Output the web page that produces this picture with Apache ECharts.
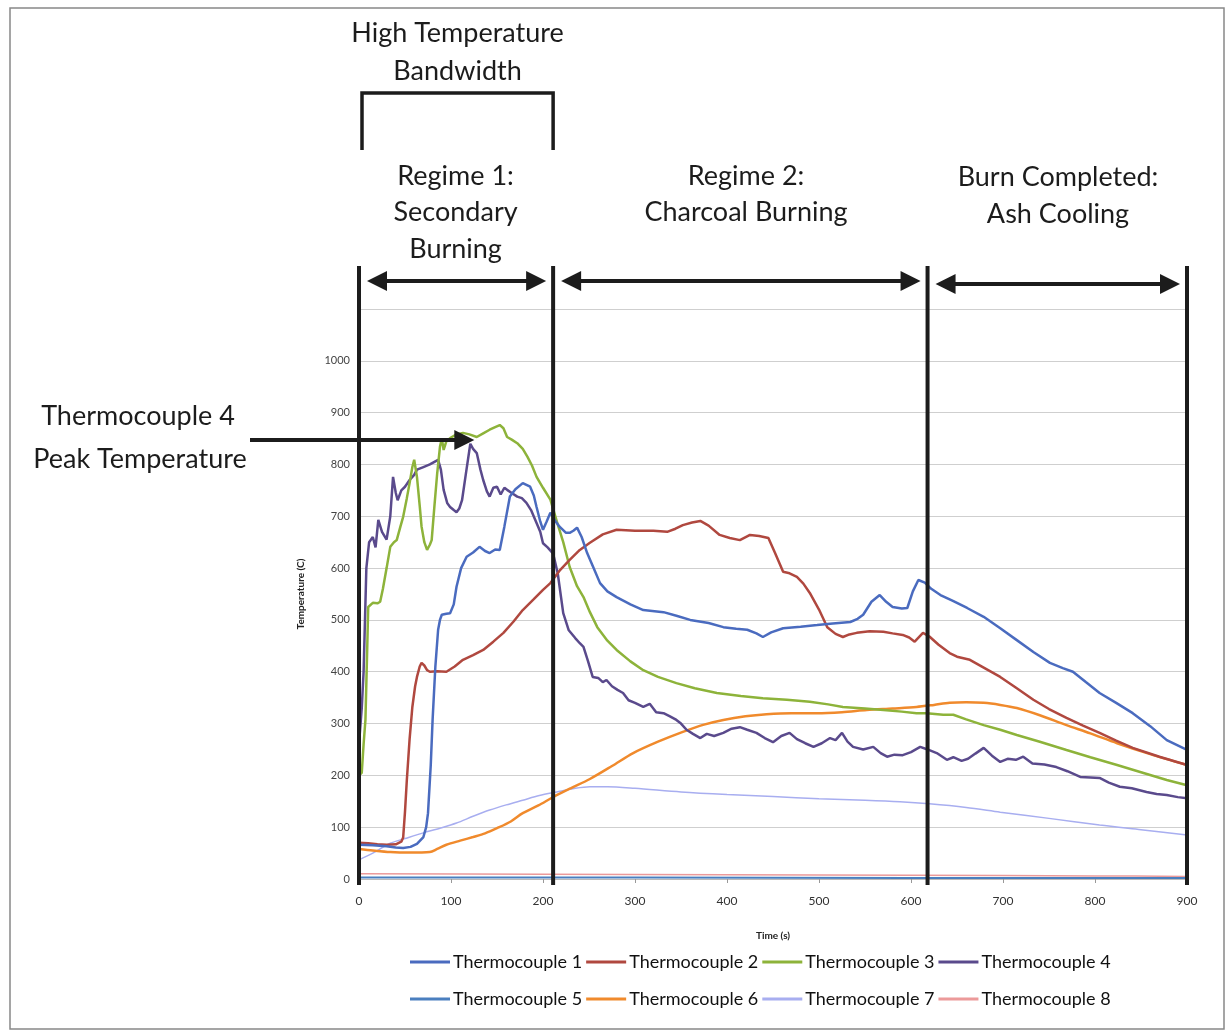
<html>
<head>
<meta charset="utf-8">
<script src="https://cdn.jsdelivr.net/npm/echarts@6/dist/echarts.min.js"></script>
<style>
  html, body { margin: 0; padding: 0; background: #fff; }
  #main { width: 1230px; height: 1033px; }
</style>
</head>
<body>
<div id="main"></div>
<script>
// time (s), temperature (C)
var tc1 = [[0,66],[15,65],[30,63],[40,61],[48,60],[56,62],[63,68],[70,81],[73,100],[75,127],[78,220],[80,307],[83,410],[86,481],[88,500],[90,510],[95,512],[99,513],[103,530],[106,564],[111,600],[117,622],[124,630],[131,641],[137,633],[142,629],[148,636],[153,635],[158,680],[164,738],[170,752],[178,764],[186,757],[190,740],[193,718],[197,690],[200,674],[204,690],[208,707],[213,692],[218,680],[225,668],[229,668],[233,672],[237,678],[242,660],[248,629],[255,600],[262,571],[270,555],[280,544],[295,530],[309,519],[331,515],[345,508],[360,500],[380,494],[396,486],[410,483],[422,481],[432,474],[439,467],[448,476],[461,484],[480,487],[498,490],[515,493],[534,496],[542,502],[548,510],[557,535],[566,548],[573,535],[580,525],[590,522],[596,523],[602,555],[608,577],[615,572],[622,560],[632,548],[645,537],[661,523],[679,506],[697,484],[715,461],[733,438],[751,417],[765,407],[776,400],[790,380],[805,359],[823,340],[841,320],[860,295],[878,268],[900,249]];
var tc2 = [[0,70],[10,69],[20,67],[30,66],[40,67],[46,72],[48,80],[50,130],[52,191],[55,270],[58,332],[61,372],[63,390],[66,410],[68,417],[71,412],[74,403],[77,400],[85,401],[95,400],[104,410],[113,423],[124,432],[135,442],[146,458],[157,475],[168,497],[178,519],[190,540],[200,558],[208,571],[218,595],[229,616],[240,635],[251,649],[265,665],[280,674],[300,672],[320,672],[335,670],[344,676],[352,683],[362,688],[371,691],[380,682],[392,664],[403,658],[414,654],[425,664],[435,662],[445,658],[452,630],[461,593],[468,590],[476,583],[483,570],[490,552],[500,520],[509,486],[518,473],[526,467],[533,472],[541,475],[555,478],[570,477],[580,474],[591,471],[598,466],[604,458],[613,475],[620,468],[630,452],[642,436],[650,429],[664,423],[680,407],[697,390],[715,368],[733,346],[750,328],[769,311],[787,296],[805,282],[823,267],[841,253],[870,236],[900,220]];
var tc3 = [[0,200],[3,205],[5,260],[7,307],[9,450],[10,525],[15,533],[20,532],[23,535],[26,560],[30,600],[34,641],[38,650],[41,654],[45,680],[48,699],[52,735],[55,764],[58,795],[60,809],[63,776],[66,720],[68,680],[71,650],[74,635],[77,645],[79,654],[82,720],[85,783],[88,834],[90,850],[92,828],[95,845],[100,852],[106,858],[113,861],[120,858],[128,853],[135,860],[142,867],[148,872],[153,876],[157,870],[161,853],[166,848],[172,841],[178,830],[183,815],[188,798],[193,776],[200,755],[208,732],[215,690],[222,650],[229,602],[237,565],[244,544],[251,515],[259,486],[270,460],[280,442],[295,420],[309,403],[325,390],[345,378],[365,368],[389,359],[415,353],[439,349],[465,346],[490,342],[510,337],[526,332],[550,329],[570,326],[590,323],[606,320],[617,320],[635,317],[646,317],[660,308],[679,297],[697,288],[715,278],[740,265],[769,249],[795,235],[824,220],[850,206],[878,191],[900,181]];
var tc4 = [[0,260],[3,330],[5,400],[8,600],[11,650],[15,660],[18,640],[21,693],[25,670],[30,655],[34,700],[37,776],[40,745],[42,731],[46,750],[50,757],[55,770],[60,780],[63,790],[70,795],[77,800],[82,805],[86,809],[89,790],[92,751],[96,725],[99,718],[103,712],[106,708],[109,715],[112,731],[116,780],[121,840],[124,830],[128,822],[132,790],[135,770],[139,748],[142,738],[146,755],[150,757],[154,742],[158,755],[161,751],[166,745],[172,738],[177,735],[182,726],[187,712],[193,687],[197,670],[200,648],[205,640],[211,628],[216,590],[222,513],[228,480],[235,465],[240,455],[244,448],[249,420],[254,390],[260,388],[265,380],[269,384],[275,372],[281,365],[287,359],[293,345],[300,340],[309,332],[316,338],[323,322],[331,320],[338,314],[345,307],[350,300],[356,288],[363,280],[371,272],[378,280],[386,276],[396,282],[405,290],[414,293],[422,288],[432,282],[441,272],[450,264],[459,276],[468,282],[476,270],[485,262],[494,255],[503,262],[512,272],[518,268],[525,282],[531,265],[537,255],[548,250],[559,255],[567,243],[574,236],[582,240],[591,239],[600,245],[610,255],[618,250],[628,243],[639,230],[646,235],[655,228],[662,232],[670,242],[679,253],[688,238],[697,226],[705,232],[714,230],[722,236],[732,223],[745,221],[758,216],[770,208],[784,197],[795,196],[805,195],[815,186],[827,178],[840,175],[856,168],[867,164],[878,162],[890,158],[900,156]];
var tc5 = [[0,3],[300,3],[600,2],[900,2]];
var tc6 = [[0,58],[15,55],[34,52],[55,51],[77,52],[85,58],[95,66],[110,74],[124,81],[137,88],[150,98],[165,111],[178,127],[195,142],[211,158],[230,175],[251,193],[275,218],[298,243],[325,265],[352,284],[375,298],[396,307],[420,314],[443,318],[470,320],[498,320],[525,322],[552,326],[580,329],[606,332],[625,336],[642,340],[660,341],[679,340],[697,336],[715,330],[740,316],[769,297],[795,281],[824,262],[860,241],[900,220]];
var tc7 = [[0,37],[15,50],[34,69],[50,78],[70,89],[88,98],[106,108],[124,121],[142,133],[160,143],[178,152],[196,161],[215,168],[235,175],[251,178],[270,178],[300,175],[350,168],[400,163],[450,159],[500,155],[550,152],[588,149],[620,145],[660,138],[697,129],[750,117],[805,104],[850,95],[900,85]];
var tc8 = [[0,10],[200,9],[400,8],[600,7],[800,6],[900,5]];

var seriesNames = ['Thermocouple 1', 'Thermocouple 2', 'Thermocouple 3', 'Thermocouple 4',
                   'Thermocouple 5', 'Thermocouple 6', 'Thermocouple 7', 'Thermocouple 8'];
var seriesData = [tc1, tc2, tc3, tc4, tc5, tc6, tc7, tc8];
var colors = ['#4a6bbf', '#b0483f', '#8db33a', '#5a4a8c', '#4a7fbf', '#f08a2c', '#a8aef0', '#ec9a9a'];
var widths = [2.5, 2.5, 2.5, 2.5, 2, 2.5, 1.5, 1.5];
var smoothOn = [false, false, false, false, true, true, true, true];

// regime boundaries (s) and the peak of thermocouple 4
var regimeBounds = [0, 211, 618, 900];

var FONT = 'Lato';

var chart = echarts.init(document.getElementById('main'));

var series = seriesData.map(function (d, i) {
    return {
        name: seriesNames[i],
        type: 'line',
        data: d,
        showSymbol: false,
        symbol: 'none',
        smooth: smoothOn[i] ? 0.3 : false,
        lineStyle: { width: widths[i], color: colors[i] },
        itemStyle: { color: colors[i] },
        z: 10 - i
    };
});

function legendBlock(names, top) {
    return {
        data: names,
        left: 405,
        top: top,
        orient: 'horizontal',
        icon: 'rect',
        itemWidth: 40,
        itemHeight: 3,
        itemGap: 4,
        textStyle: { fontFamily: FONT, fontSize: 18, color: '#111', padding: [0, 0, 0, -2] }
    };
}

chart.setOption({
    animation: false,
    color: colors,
    grid: { left: 359, right: 43, top: 309, bottom: 154 },
    legend: [legendBlock(seriesNames.slice(0, 4), 948), legendBlock(seriesNames.slice(4), 985)],
    xAxis: {
        type: 'value',
        min: 0, max: 900, interval: 100,
        name: 'Time (s)',
        nameLocation: 'middle',
        nameGap: 52,
        nameTextStyle: { fontFamily: FONT, fontSize: 10, fontWeight: 'bold', color: '#222' },
        axisLine: { show: true, lineStyle: { color: '#bbb' } },
        axisTick: { show: true, length: 4, lineStyle: { color: '#999' } },
        axisLabel: { fontFamily: FONT, fontSize: 12, color: '#333', margin: 16 },
        splitLine: { show: false }
    },
    yAxis: {
        type: 'value',
        min: 0, max: 1100, interval: 100,
        name: 'Temperature (C)',
        nameLocation: 'middle',
        nameRotate: 90,
        nameGap: 53,
        nameTextStyle: { fontFamily: FONT, fontSize: 10, fontWeight: 'bold', color: '#222' },
        axisLine: { show: false },
        axisTick: { show: false },
        axisLabel: {
            fontFamily: FONT, fontSize: 11, color: '#444', margin: 9,
            formatter: function (v) { return v > 1000 ? '' : v; }
        },
        splitLine: { lineStyle: { color: '#cfcfcf', width: 1 } }
    },
    series: series
});

// annotations drawn on top of the chart, anchored to axis positions
function px(t, v) { return chart.convertToPixel({ gridIndex: 0 }, [t, v]); }

var INK = '#1c1c1c';
var g = [];

// outer frame
g.push({ type: 'rect', shape: { x: 10, y: 8, width: 1214, height: 1021 },
         style: { fill: null, stroke: '#888', lineWidth: 1.5 }, z: 100 });

// vertical regime lines
regimeBounds.forEach(function (t) {
    var x = px(t, 0)[0];
    g.push({ type: 'line', shape: { x1: x, y1: 266, x2: x, y2: 885 },
             style: { stroke: INK, lineWidth: 4 }, z: 100 });
});

function arrowHead(x, y, dir) {
    return { type: 'polygon',
             shape: { points: [[x, y], [x - dir * 20, y - 10], [x - dir * 20, y + 10]] },
             style: { fill: INK }, z: 101 };
}
function doubleArrow(x1, x2, y) {
    g.push({ type: 'line', shape: { x1: x1 + 10, y1: y, x2: x2 - 10, y2: y },
             style: { stroke: INK, lineWidth: 4 }, z: 100 });
    g.push(arrowHead(x1, y, -1));
    g.push(arrowHead(x2, y, 1));
}
for (var i = 0; i < regimeBounds.length - 1; i++) {
    var a = px(regimeBounds[i], 0)[0];
    var b = px(regimeBounds[i + 1], 0)[0];
    doubleArrow(a + 8, b - 7, i === 2 ? 284 : 281);
}

// high temperature bracket over regime 1
var bx1 = px(regimeBounds[0], 0)[0] + 3;
var bx2 = px(regimeBounds[1], 0)[0];
g.push({ type: 'polyline', shape: { points: [[bx1, 150], [bx1, 93], [bx2, 93], [bx2, 150]] },
         style: { stroke: INK, lineWidth: 3.5, fill: null }, z: 100 });

// arrow to thermocouple 4 peak
var peak = tc4.reduce(function (m, p) { return p[1] > m[1] ? p : m; });
var pk = px(peak[0], peak[1]);
var ay = 440;
g.push({ type: 'line', shape: { x1: 250, y1: ay, x2: pk[0] - 15, y2: ay },
         style: { stroke: INK, lineWidth: 4 }, z: 100 });
g.push(arrowHead(pk[0] + 4, ay, 1));

function label(text, x, y) {
    g.push({ type: 'text', x: x, y: y, z: 102,
             style: { text: text, fill: INK, font: '27px ' + FONT,
                      align: 'center', verticalAlign: 'middle' } });
}
var c1 = (bx1 + bx2) / 2;
label('High Temperature', c1, 33);
label('Bandwidth', c1, 71);
label('Regime 1:', c1 - 2, 176);
label('Secondary', c1 - 2, 212);
label('Burning', c1 - 2, 249);
label('Regime 2:', 746, 176);
label('Charcoal Burning', 746, 212);
label('Burn Completed:', 1058, 177);
label('Ash Cooling', 1058, 214);
label('Thermocouple 4', 138, 416);
label('Peak Temperature', 140, 459);

chart.setOption({ graphic: g });
</script>
</body>
</html>
